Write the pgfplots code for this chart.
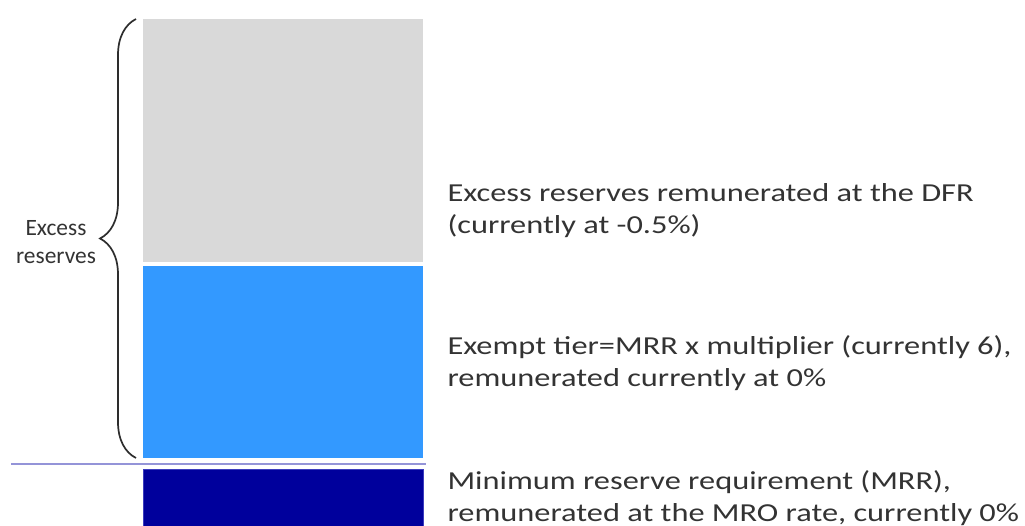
\documentclass[border=0pt]{standalone}
\usepackage{pgfplots}
\pgfplotsset{compat=1.18}
\usepackage{fontspec}
\setmainfont{Carlito}
\newfontfamily\widefont[FakeStretch=1.25]{Carlito}
\usetikzlibrary{decorations.pathreplacing}
\definecolor{cgray}{HTML}{D9D9D9}
\definecolor{cblue}{HTML}{3399FF}
\definecolor{cnavy}{HTML}{00009C}
\definecolor{cnavyedge}{HTML}{3C3CBE}
\definecolor{cline}{HTML}{9494D8}
\definecolor{ctext}{HTML}{333333}
\definecolor{cbrace}{HTML}{2D2D2D}
\begin{document}
\begin{tikzpicture}
\begin{axis}[
  scale only axis, width=1025bp, height=526bp,
  xmin=0, xmax=1025, ymin=0, ymax=526,
  hide axis, clip=false,
  ybar stacked, bar width=280, bar shift=0pt,
]
\addplot[fill=cnavy, draw=cnavyedge, line width=0.6pt] coordinates {(283,57)};
\addplot[fill=none, draw=none] coordinates {(283,11)};
\addplot[fill=cblue, draw=none] coordinates {(283,192)};
\addplot[fill=none, draw=none] coordinates {(283,4)};
\addplot[fill=cgray, draw=none] coordinates {(283,243)};
\end{axis}
\begin{axis}[
  scale only axis, width=1025bp, height=526bp,
  xmin=0, xmax=1025, ymin=0, ymax=526,
  hide axis, clip=false,
]
\addplot[cline, line width=3pt] coordinates {(11,62) (426,62)};
\draw[decorate, decoration={brace, amplitude=36bp}, line width=1.7pt, color=cbrace]
  (axis cs:136,68) -- (axis cs:136,507);
\node[ctext, align=center, font=\fontsize{23.5}{28}\selectfont] at (axis cs:56,284) {Excess\\reserves};
\node[ctext, anchor=west, align=left, font=\widefont\fontsize{26}{32}\selectfont] at (axis cs:444,315) {Excess reserves remunerated at the DFR\\(currently at -0.5\%)};
\node[ctext, anchor=west, align=left, font=\widefont\fontsize{26}{32}\selectfont] at (axis cs:444,163) {Exempt tier=MRR x multiplier (currently 6),\\remunerated currently at 0\%};
\node[ctext, anchor=west, align=left, font=\widefont\fontsize{26}{32}\selectfont] at (axis cs:444,28) {Minimum reserve requirement (MRR),\\remunerated at the MRO rate, currently 0\%};
\end{axis}
\pgfresetboundingbox
\useasboundingbox (0,0) rectangle (1025bp,526bp);
\end{tikzpicture}
\end{document}
